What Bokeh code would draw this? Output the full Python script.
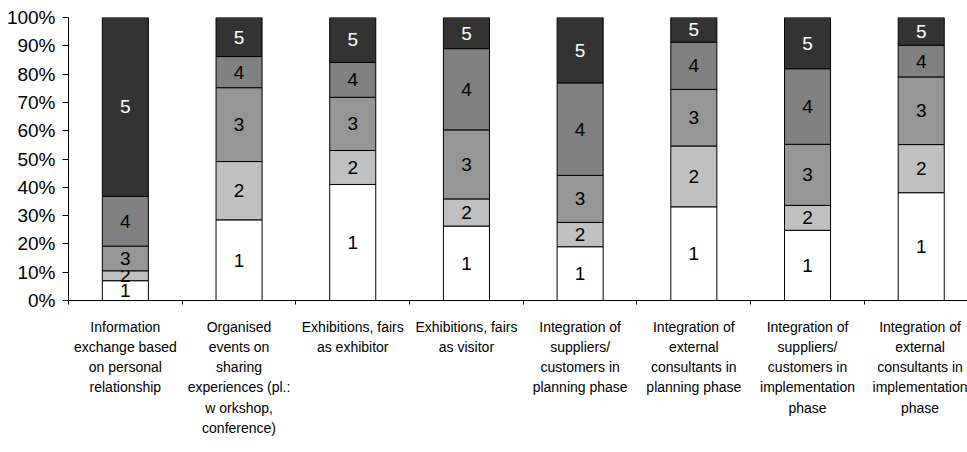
from bokeh.plotting import figure
from bokeh.models import ColumnDataSource, FixedTicker, PrintfTickFormatter, Range1d
from bokeh.embed import file_html
from bokeh.resources import INLINE
from bokeh.core.properties import value

# Categories (x axis) and the share of each rating 1..5, in percent
categories = [
    "Information\nexchange based\non personal\nrelationship",
    "Organised\nevents on\nsharing\nexperiences (pl.:\nw orkshop,\nconference)",
    "Exhibitions, fairs\nas exhibitor",
    "Exhibitions, fairs\nas visitor",
    "Integration of\nsuppliers/\ncustomers in\nplanning phase",
    "Integration of\nexternal\nconsultants in\nplanning phase",
    "Integration of\nsuppliers/\ncustomers in\nimplementation\nphase",
    "Integration of\nexternal\nconsultants in\nimplementation\nphase",
]

rating_1 = [7.0, 28.5, 41.0, 26.3, 19.0, 33.1, 24.8, 38.1]
rating_2 = [3.5, 20.6, 12.0, 9.6, 8.6, 21.5, 8.8, 17.0]
rating_3 = [8.7, 26.1, 18.8, 24.4, 16.6, 20.0, 21.6, 23.9]
rating_4 = [17.6, 11.0, 12.3, 28.7, 32.7, 16.7, 26.7, 11.2]
rating_5 = [63.2, 13.8, 15.9, 11.0, 23.1, 8.7, 18.1, 9.8]

series = [rating_1, rating_2, rating_3, rating_4, rating_5]
series_names = ["1", "2", "3", "4", "5"]
fill_colors = ["#ffffff", "#c0c0c0", "#969696", "#808080", "#333333"]
label_colors = ["#000000", "#000000", "#000000", "#000000", "#ffffff"]

y_ticks = list(range(0, 101, 10))

FONT = "Liberation Sans"

n = len(categories)
centers = [i + 0.5 for i in range(n)]

p = figure(
    width=967, height=452,
    output_backend="svg", toolbar_location=None,
    x_range=Range1d(0, 7.907), y_range=Range1d(0, 100),
    min_border_left=68, min_border_right=0,
    min_border_top=17, min_border_bottom=152,
)
p.outline_line_color = None
p.xgrid.visible = False
p.ygrid.visible = False
p.background_fill_color = "white"
p.border_fill_color = "white"

# stacked segments with a label in the middle of each
bottoms = [0.0] * n
for vals, name, fc, lc in zip(series, series_names, fill_colors, label_colors):
    tops = [b + v for b, v in zip(bottoms, vals)]
    mids = [b + v / 2 for b, v in zip(bottoms, vals)]
    src = ColumnDataSource(dict(x=centers, bottom=bottoms, top=tops, mid=mids,
                                label=[name] * n))
    p.vbar(x="x", width=0.405, bottom="bottom", top="top", source=src,
           fill_color=fc, line_color="black", line_width=1)
    p.text(x="x", y="mid", text="label", source=src,
           text_align="center", text_baseline="middle",
           text_font=value(FONT), text_font_size="19px", text_color=lc)
    bottoms = tops

# y axis: percent ticks
p.yaxis.ticker = FixedTicker(ticks=y_ticks)
p.yaxis.formatter = PrintfTickFormatter(format="%d%%")
p.yaxis.major_tick_out = 6
p.yaxis.major_tick_in = 0
p.yaxis.minor_tick_line_color = None
p.yaxis.axis_line_color = "black"
p.yaxis.major_tick_line_color = "black"
p.yaxis.major_label_text_font = FONT
p.yaxis.major_label_text_font_size = "19px"
p.yaxis.major_label_text_color = "black"
p.yaxis.major_label_standoff = 7

# x axis: category names centred, boundary ticks as minor ticks
p.xaxis.ticker = FixedTicker(ticks=centers, minor_ticks=list(range(n + 1)))
p.xaxis.major_label_overrides = {c: lab for c, lab in zip(centers, categories)}
p.xaxis.major_tick_line_color = None
p.xaxis.minor_tick_out = 4
p.xaxis.minor_tick_in = 0
p.xaxis.minor_tick_line_color = "black"
p.xaxis.axis_line_color = "black"
p.xaxis.major_label_text_font = FONT
p.xaxis.major_label_text_font_size = "14px"
p.xaxis.major_label_text_color = "black"
p.xaxis.major_label_text_line_height = 1.27
p.xaxis.major_label_standoff = 12

open("out.html", "w").write(file_html(p, INLINE))
